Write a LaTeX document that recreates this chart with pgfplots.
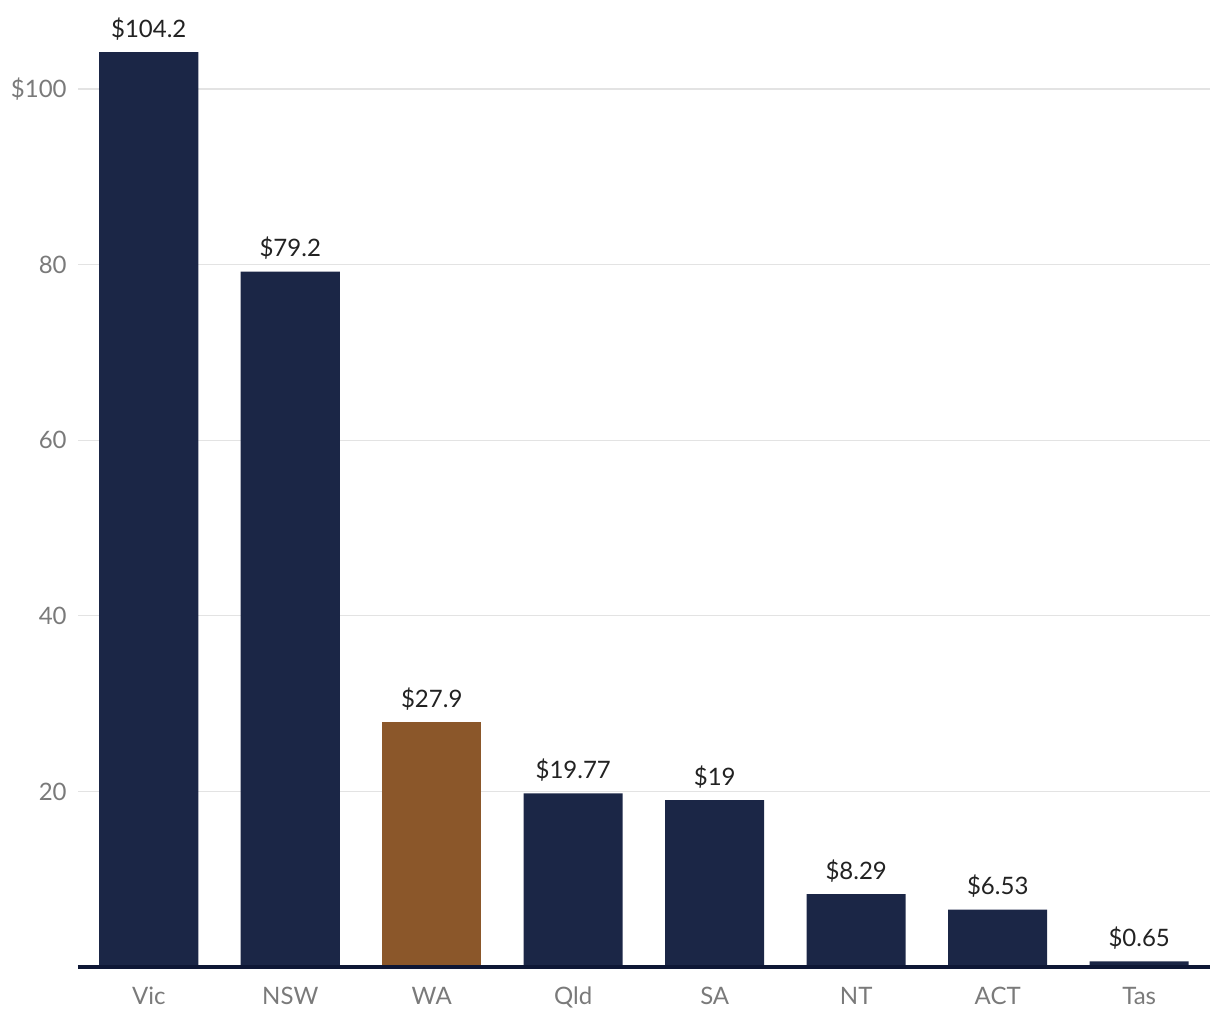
\documentclass[border=0pt]{standalone}
\usepackage{fontspec}
\setmainfont{Lato}
\usepackage{pgfplots}
\pgfplotsset{compat=1.18}
\definecolor{navy}{HTML}{1B2646}
\definecolor{brownbar}{HTML}{8B572A}
\definecolor{axisnavy}{HTML}{0E1735}
\definecolor{gridgrey}{HTML}{E3E3E3}
\definecolor{ticktext}{HTML}{7A7A7A}
\definecolor{valtext}{HTML}{222222}
\begin{document}
\begin{tikzpicture}
\path[use as bounding box] (-39pt,-26.5pt) rectangle (571pt,483.5pt);
\begin{axis}[
  at={(0,0)}, anchor=south west,
  scale only axis, width=566pt, height=474.1pt,
  xmin=-0.5, xmax=7.5, ymin=0, ymax=108,
  axis line style={draw=none},
  axis x line*=bottom, axis y line*=left,
  xtick={0,1,2,3,4,5,6,7},
  xticklabels={Vic,NSW,WA,Qld,SA,NT,ACT,Tas},
  ytick={20,40,60,80,100},
  yticklabels={20,40,60,80,\$100},
  major tick length=0pt,
  ymajorgrids, grid style={gridgrey, line width=0.6pt},
  tick label style={font=\fontsize{12}{14}\selectfont, text=ticktext},
  xticklabel style={anchor=base, inner sep=0pt, yshift=-19pt},
  yticklabel style={anchor=east, inner sep=0pt, xshift=-5.5pt},
  /pgf/number format/assume math mode=true,
  ybar, bar width=49.5pt, bar shift=0pt,
  nodes near coords={\$\pgfplotspointmeta},
  point meta=explicit symbolic,
  nodes near coords align={anchor=base},
  every node near coord/.append style={anchor=base, yshift=7.5pt, inner sep=0pt, font=\fontsize{12}{14}\selectfont, text=valtext},
  clip=false,
]
\addplot[fill=navy, draw=none] coordinates {(0,104.2) [104.2] (1,79.2) [79.2] (3,19.77) [19.77] (4,19) [19] (5,8.29) [8.29] (6,6.53) [6.53] (7,0.65) [0.65]};
\addplot[fill=brownbar, draw=none] coordinates {(2,27.9) [27.9]};
\draw[axisnavy, line width=1.8pt] (axis cs:-0.5,0) -- (axis cs:7.5,0);
\end{axis}
\end{tikzpicture}
\end{document}
